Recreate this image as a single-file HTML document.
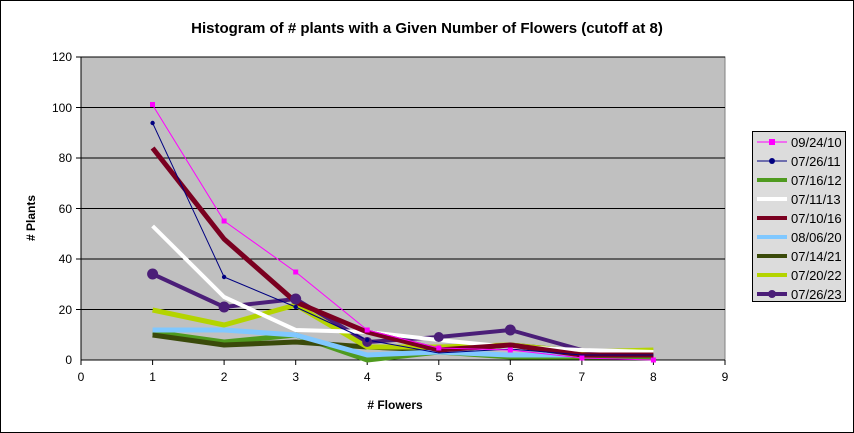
<!DOCTYPE html>
<html><head><meta charset="utf-8"><style>
html,body{margin:0;padding:0;background:#fff}
svg{display:block;font-family:"Liberation Sans",Arial,sans-serif}
</style></head><body>
<svg width="854" height="433" viewBox="0 0 854 433" xmlns="http://www.w3.org/2000/svg">
<rect x="0.5" y="0.5" width="853" height="432" fill="#fff" stroke="#000"/>
<text x="427" y="33" text-anchor="middle" font-size="15" font-weight="bold">Histogram of # plants with a Given Number of Flowers (cutoff at 8)</text>
<rect x="81" y="57" width="644" height="303" fill="#c0c0c0" stroke="#808080"/>
<g stroke="#000" stroke-width="1">
<line x1="81" y1="57" x2="725" y2="57"/>
<line x1="81" y1="107.5" x2="725" y2="107.5"/>
<line x1="81" y1="158" x2="725" y2="158"/>
<line x1="81" y1="208.5" x2="725" y2="208.5"/>
<line x1="81" y1="259" x2="725" y2="259"/>
<line x1="81" y1="309.5" x2="725" y2="309.5"/>
<line x1="81" y1="360" x2="725" y2="360"/>
<line x1="81" y1="57" x2="81" y2="360"/>
</g>
<g stroke="#000">
<line x1="76" y1="57" x2="81" y2="57"/><line x1="76" y1="107.5" x2="81" y2="107.5"/><line x1="76" y1="158" x2="81" y2="158"/><line x1="76" y1="208.5" x2="81" y2="208.5"/><line x1="76" y1="259" x2="81" y2="259"/><line x1="76" y1="309.5" x2="81" y2="309.5"/>
<line x1="81" y1="360" x2="81" y2="365"/><line x1="152.6" y1="360" x2="152.6" y2="365"/><line x1="224.1" y1="360" x2="224.1" y2="365"/><line x1="295.7" y1="360" x2="295.7" y2="365"/><line x1="367.2" y1="360" x2="367.2" y2="365"/><line x1="438.8" y1="360" x2="438.8" y2="365"/><line x1="510.3" y1="360" x2="510.3" y2="365"/><line x1="581.9" y1="360" x2="581.9" y2="365"/><line x1="653.4" y1="360" x2="653.4" y2="365"/><line x1="725" y1="360" x2="725" y2="365"/>
</g>
<g font-size="12" text-anchor="end">
<text x="72" y="61">120</text><text x="72" y="112">100</text><text x="72" y="162">80</text><text x="72" y="213">60</text><text x="72" y="263">40</text><text x="72" y="314">20</text><text x="72" y="364">0</text>
</g>
<g font-size="12" text-anchor="middle">
<text x="81" y="381">0</text><text x="152.6" y="381">1</text><text x="224.1" y="381">2</text><text x="295.7" y="381">3</text><text x="367.2" y="381">4</text><text x="438.8" y="381">5</text><text x="510.3" y="381">6</text><text x="581.9" y="381">7</text><text x="653.4" y="381">8</text><text x="725" y="381">9</text>
</g>
<text x="395" y="409" text-anchor="middle" font-size="12" font-weight="bold"># Flowers</text>
<text transform="translate(35,218) rotate(-90)" text-anchor="middle" font-size="12" font-weight="bold"># Plants</text>
<g fill="none" stroke-linejoin="round">
<polyline stroke="#4f9a1f" stroke-width="5" points="152.6,332 224.1,342 295.7,335 367.2,360 438.8,352 510.3,357 581.9,357 653.4,357"/>
<polyline stroke="#3a4a0a" stroke-width="5" points="152.6,335 224.1,345 295.7,342 367.2,347 438.8,350 510.3,345 581.9,352 653.4,352"/>
<polyline stroke="#80c8ff" stroke-width="5" points="152.6,330 224.1,330 295.7,335 367.2,355 438.8,352 510.3,355 581.9,355 653.4,352"/>
<polyline stroke="#b4d400" stroke-width="5" points="152.6,310 224.1,325 295.7,305 367.2,347 438.8,347 510.3,345 581.9,352 653.4,350"/>
<polyline stroke="#4b1e78" stroke-width="4" points="152.6,274 224.1,307 295.7,299 367.2,342 438.8,337 510.3,330 581.9,350 653.4,355"/>
<polyline stroke="#fff" stroke-width="4" points="152.6,226 224.1,297 295.7,330 367.2,332 438.8,340 510.3,347 581.9,350 653.4,352"/>
<polyline stroke="#7a0020" stroke-width="5" points="152.6,148 224.1,239 295.7,302 367.2,332 438.8,350 510.3,345 581.9,355 653.4,355"/>
<polyline stroke="#000080" stroke-width="1" points="152.6,123 224.1,277 295.7,307 367.2,340 438.8,353 510.3,349 581.9,355 653.4,355"/>
<polyline stroke="#ff00ff" stroke-width="1" points="152.6,105 224.1,221 295.7,272 367.2,330 438.8,348 510.3,350 581.9,358 653.4,360"/>
</g>
<g fill="#4b1e78"><circle cx="152.6" cy="274" r="5.5"/><circle cx="224.1" cy="307" r="5.5"/><circle cx="295.7" cy="299" r="5.5"/><circle cx="367.2" cy="342" r="5"/><circle cx="438.8" cy="337" r="5"/><circle cx="510.3" cy="330" r="5.5"/></g>
<g fill="#ff00ff"><rect x="150" y="102" width="5" height="5"/><rect x="221.6" y="218.5" width="5" height="5"/><rect x="293.2" y="269.5" width="5" height="5"/><rect x="364.7" y="327.5" width="5" height="5"/><rect x="436.3" y="345.5" width="5" height="5"/><rect x="507.8" y="347.5" width="5" height="5"/><rect x="579.4" y="355.5" width="5" height="5"/><rect x="650.9" y="357.5" width="5" height="5"/></g>
<g fill="#000080"><circle cx="152.6" cy="123" r="2.2"/><circle cx="224.1" cy="277" r="2.2"/><circle cx="295.7" cy="307" r="2.2"/><circle cx="367.2" cy="340" r="2.2"/></g>
<rect x="752.5" y="131.5" width="93" height="170" fill="#dcdcdc" stroke="#000"/>
<g font-size="13">
<line x1="757" y1="142" x2="787" y2="142" stroke="#ff00ff"/><rect x="769" y="139" width="6" height="6" fill="#ff00ff"/><text x="791" y="147">09/24/10</text>
<line x1="757" y1="161" x2="787" y2="161" stroke="#000080"/><circle cx="772" cy="161" r="3" fill="#000080"/><text x="791" y="166">07/26/11</text>
<line x1="757" y1="180" x2="787" y2="180" stroke="#4f9a1f" stroke-width="4"/><text x="791" y="185">07/16/12</text>
<line x1="757" y1="199" x2="787" y2="199" stroke="#fff" stroke-width="4"/><text x="791" y="204">07/11/13</text>
<line x1="757" y1="218" x2="787" y2="218" stroke="#7a0020" stroke-width="4"/><text x="791" y="223">07/10/16</text>
<line x1="757" y1="237" x2="787" y2="237" stroke="#80c8ff" stroke-width="4"/><text x="791" y="242">08/06/20</text>
<line x1="757" y1="256" x2="787" y2="256" stroke="#3a4a0a" stroke-width="4"/><text x="791" y="261">07/14/21</text>
<line x1="757" y1="275" x2="787" y2="275" stroke="#b4d400" stroke-width="4"/><text x="791" y="280">07/20/22</text>
<line x1="757" y1="294" x2="787" y2="294" stroke="#4b1e78" stroke-width="4"/><circle cx="772" cy="294" r="4" fill="#4b1e78"/><text x="791" y="299">07/26/23</text>
</g>
</svg>
</body></html>
